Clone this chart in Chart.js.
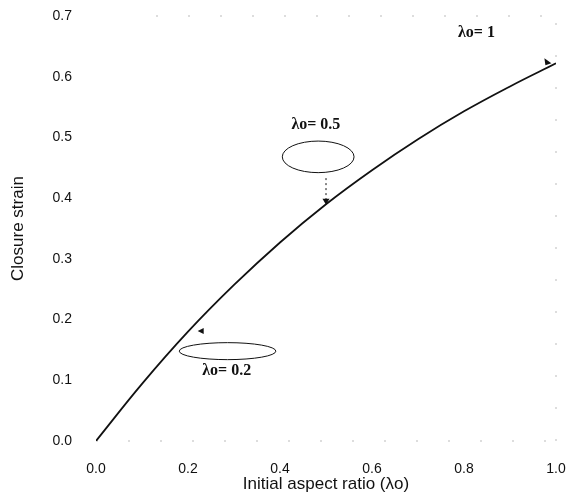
<!DOCTYPE html>
<html>
<head>
<meta charset="utf-8">
<script src="https://cdn.jsdelivr.net/npm/chart.js@4/dist/chart.umd.min.js"></script>
<style>
  html, body { margin: 0; padding: 0; background: #fff; }
  #wrap { width: 568px; height: 495px; position: relative; }
</style>
</head>
<body>
<div id="wrap"><canvas id="chart"></canvas></div>
<script>
// initial aspect ratio vs closure strain
const aspectRatio = [0, 0.1, 0.2, 0.3, 0.4, 0.5, 0.6, 0.7, 0.8, 0.9, 1.0];
const closureStrain = [0, 0.094, 0.18, 0.257, 0.327, 0.39, 0.446, 0.497, 0.543, 0.584, 0.622];

const xTicks = [0, 0.2, 0.4, 0.6, 0.8, 1.0];
const yTicks = [0, 0.1, 0.2, 0.3, 0.4, 0.5, 0.6, 0.7];

// callouts, in data units
const callouts = [
  { text: 'λo= 1', at: [0.827, 0.672], arrow: [0.99, 0.622], dir: 'right' },
  { text: 'λo= 0.5', at: [0.478, 0.52], ellipse: [0.483, 0.468, 0.078, 0.026],
    stem: [0.5, 0.433], arrow: [0.5, 0.389], dir: 'down' },
  { text: 'λo= 0.2', at: [0.284, 0.115], ellipse: [0.286, 0.148, 0.105, 0.014],
    arrow: [0.221, 0.181], dir: 'left' }
];

// faint dotted frame like the scanned original
const framePlugin = {
  id: 'frame',
  beforeDatasetsDraw(chart) {
    const { ctx, chartArea: a } = chart;
    ctx.save();
    ctx.strokeStyle = '#bbb';
    ctx.lineWidth = 1;
    ctx.setLineDash([2, 30]);
    ctx.beginPath();
    ctx.moveTo(a.left, a.bottom); ctx.lineTo(a.right, a.bottom);
    ctx.moveTo(a.right, a.bottom); ctx.lineTo(a.right, a.top);
    ctx.moveTo(a.left + 60, a.top); ctx.lineTo(a.right, a.top);
    ctx.stroke();
    ctx.restore();
  }
};

const calloutPlugin = {
  id: 'callouts',
  afterDatasetsDraw(chart) {
    const ctx = chart.ctx;
    const xs = chart.scales.x, ys = chart.scales.y;
    const px = v => xs.getPixelForValue(v);
    const py = v => ys.getPixelForValue(v);
    ctx.save();
    ctx.strokeStyle = '#111';
    ctx.fillStyle = '#111';
    ctx.lineWidth = 1;
    callouts.forEach(c => {
      ctx.font = 'bold 16px "Liberation Serif", serif';
      ctx.textAlign = 'center';
      ctx.textBaseline = 'middle';
      ctx.fillText(c.text, px(c.at[0]), py(c.at[1]));
      if (c.ellipse) {
        const [ex, ey, rx, ry] = c.ellipse;
        const cx = px(ex), cy = py(ey);
        ctx.beginPath();
        ctx.ellipse(cx, cy, px(ex + rx) - cx, cy - py(ey + ry), 0, 0, Math.PI * 2);
        ctx.stroke();
      }
      const ax = px(c.arrow[0]), ay = py(c.arrow[1]);
      if (c.stem) {
        ctx.setLineDash([2, 3]);
        ctx.beginPath();
        ctx.moveTo(px(c.stem[0]), py(c.stem[1]));
        ctx.lineTo(ax, ay - 4);
        ctx.stroke();
        ctx.setLineDash([]);
      }
      ctx.beginPath();
      if (c.dir === 'down') {
        ctx.moveTo(ax, ay); ctx.lineTo(ax - 3.5, ay - 6); ctx.lineTo(ax + 3.5, ay - 6);
      } else if (c.dir === 'left') {
        ctx.moveTo(ax, ay); ctx.lineTo(ax + 6, ay - 3); ctx.lineTo(ax + 6, ay + 3);
      } else {
        ctx.moveTo(ax, ay); ctx.lineTo(ax - 7, ay - 5); ctx.lineTo(ax - 6, ay + 2);
      }
      ctx.closePath();
      ctx.fill();
    });
    ctx.restore();
  }
};

new Chart(document.getElementById('chart'), {
  type: 'line',
  data: {
    datasets: [{
      data: aspectRatio.map((x, i) => ({ x: x, y: closureStrain[i] })),
      borderColor: '#111',
      borderWidth: 1.8,
      pointRadius: 0,
      fill: false,
      tension: 0.4
    }]
  },
  options: {
    responsive: true,
    maintainAspectRatio: false,
    animation: false,
    layout: { padding: { top: 16, right: 12, left: 0, bottom: 0 } },
    plugins: {
      legend: { display: false },
      tooltip: { enabled: false }
    },
    scales: {
      x: {
        type: 'linear',
        min: 0,
        max: 1,
        afterFit: s => { s.height = 54; s.paddingLeft = 0; s.paddingRight = 0; },
        afterBuildTicks: s => { s.ticks = xTicks.map(v => ({ value: v })); },
        grid: { display: false, drawTicks: false },
        border: { display: false },
        ticks: {
          padding: 20,
          color: '#111',
          font: { family: '"Liberation Sans", Arial, sans-serif', size: 14 },
          callback: v => v.toFixed(1)
        },
        title: {
          display: true,
          text: 'Initial aspect ratio (λo)',
          color: '#111',
          font: { family: '"Liberation Sans", Arial, sans-serif', size: 17 },
          padding: { top: 0, bottom: 0 }
        }
      },
      y: {
        min: 0,
        max: 0.7,
        afterFit: s => { s.width = 96; s.paddingTop = 0; s.paddingBottom = 0; },
        afterBuildTicks: s => { s.ticks = yTicks.map(v => ({ value: v })); },
        grid: { display: false, drawTicks: false },
        border: { display: false },
        ticks: {
          padding: 24,
          color: '#111',
          font: { family: '"Liberation Sans", Arial, sans-serif', size: 14 },
          callback: v => v.toFixed(1)
        },
        title: {
          display: true,
          text: 'Closure strain',
          color: '#111',
          font: { family: '"Liberation Sans", Arial, sans-serif', size: 17 },
          padding: { top: 8, bottom: 0 }
        }
      }
    }
  },
  plugins: [framePlugin, calloutPlugin]
});
</script>
</body>
</html>
